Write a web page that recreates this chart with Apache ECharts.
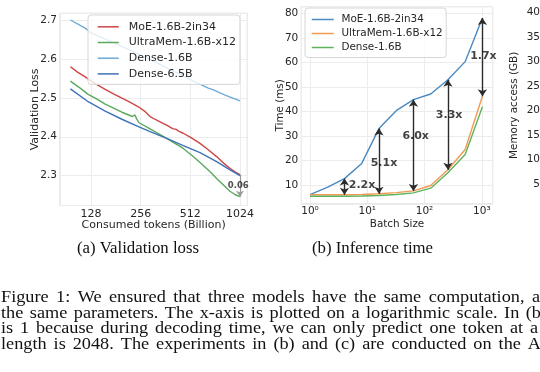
<!DOCTYPE html>
<html><head><meta charset="utf-8">
<script src="https://cdn.jsdelivr.net/npm/echarts@6/dist/echarts.min.js"></script>
<style>html,body{margin:0;padding:0;background:#fff}#c{width:540px;height:372px}</style>
</head><body><div id="c"></div>
<script>
// ---------- (a) Validation loss ----------
const lossTicks = [128, 256, 512, 1024];
const moeLossX   = [96, 106, 118, 135, 156, 175, 197, 220, 248, 270, 292, 312, 340, 368, 400, 420, 440, 464, 520, 586, 660, 739, 810, 890, 960, 1024];
const moeLossY   = [2.580, 2.566, 2.554, 2.537, 2.522, 2.510, 2.499, 2.489, 2.477, 2.466, 2.452, 2.445, 2.437, 2.430, 2.421, 2.419, 2.413, 2.409, 2.397, 2.383, 2.366, 2.349, 2.333, 2.319, 2.309, 2.303];
const ultraLossX = [96, 110, 123, 140, 156, 178, 197, 228, 236, 242, 250, 292, 312, 368, 464, 520, 586, 680, 739, 810, 890, 960, 1024];
const ultraLossY = [2.543, 2.525, 2.509, 2.496, 2.484, 2.472, 2.463, 2.452, 2.456, 2.446, 2.436, 2.420, 2.413, 2.396, 2.370, 2.353, 2.334, 2.309, 2.293, 2.277, 2.260, 2.251, 2.246];
const dense16LossX = [96, 118, 129, 200, 291, 385, 512, 658, 700, 831, 1024];
const dense16LossY = [2.700, 2.679, 2.666, 2.631, 2.599, 2.573, 2.547, 2.525, 2.521, 2.507, 2.492];
const dense65LossX = [96, 123, 156, 197, 248, 292, 368, 464, 586, 739, 890, 1024];
const dense65LossY = [2.523, 2.490, 2.466, 2.445, 2.426, 2.413, 2.396, 2.377, 2.359, 2.336, 2.315, 2.300];

// ---------- (b) Inference time ----------
const batchSizes = [1, 2, 4, 8, 16, 32, 64, 128, 256, 512, 1024];
const moeTime    = [6.1, 9.0, 12.6, 18.8, 33.0, 40.3, 44.8, 47.1, 52.9, 60.3, 78.1];
const ultraTime  = [6.0, 6.0, 6.0, 6.1, 6.4, 6.9, 7.6, 9.8, 16.2, 24.5, 46.2];
const denseTime  = [5.4, 5.4, 5.4, 5.5, 5.7, 6.1, 6.8, 8.7, 15.0, 22.4, 41.9];
const arrowBatches = [4, 16, 64, 256, 1024];
const speedupLabels = ['2.2x', '5.1x', '6.0x', '3.3x', '1.7x'];
const speedupLabelX = [8.1, 19.6, 70, 269, 1067];
const speedupLabelY = [10, 19.1, 30, 38.5, 62.6];

// ---------- captions ----------
const subCaptions = ['(a) Validation loss', '(b) Inference time'];
const captionLines = [
  'Figure 1: We ensured that three models have the same computation, a',
  'the same parameters. The x-axis is plotted on a logarithmic scale. In (b',
  'is 1 because during decoding time, we can only predict one token at a',
  'length is 2048. The experiments in (b) and (c) are conducted on the A'
];
const thirdAxisName = 'Memory access (GB)';

const zip = (xs, ys) => xs.map((x, i) => [x, ys[i]]);
const SANS = 'DejaVu Sans';
const TXT = '#262626';

const chart = echarts.init(document.getElementById('c'), null, {renderer: 'canvas'});

function lineSeries(name, data, color, xi) {
  return {type: 'line', name, data, xAxisIndex: xi, yAxisIndex: xi, symbol: 'none', showSymbol: false,
    lineStyle: {color, width: 1.4}, itemStyle: {color}, z: 2, animation: false};
}

const iA = ultraLossX.length - 1, mA = moeLossX.length - 1;
const gap = (moeLossY[mA] - ultraLossY[iA]);

const series = [
  lineSeries('a:MoE-1.6B-2in34', zip(moeLossX, moeLossY), '#cc4644', 0),
  lineSeries('a:UltraMem-1.6B-x12', zip(ultraLossX, ultraLossY), '#5aa95c', 0),
  lineSeries('a:Dense-1.6B', zip(dense16LossX, dense16LossY), '#6eaad6', 0),
  lineSeries('a:Dense-6.5B', zip(dense65LossX, dense65LossY), '#3f72b6', 0),
  {type: 'line', xAxisIndex: 0, yAxisIndex: 0, data: [], symbol: 'none', silent: true,
   markLine: {silent: true, animation: false, symbol: ['none', 'arrow'], symbolSize: 6,
     lineStyle: {color: '#9a9a9a', width: 1.2, type: 'solid'}, label: {show: false},
     data: [[{coord: [moeLossX[mA], moeLossY[mA]]}, {coord: [ultraLossX[iA], ultraLossY[iA]]}]]}},
  {type: 'scatter', xAxisIndex: 0, yAxisIndex: 0, symbolSize: 1, itemStyle: {color: 'rgba(0,0,0,0)'},
   data: [[1000, (moeLossY[mA] + ultraLossY[iA]) / 2, gap.toFixed(2)]], silent: true, z: 6, animation: false,
   label: {show: true, position: 'inside', formatter: p => p.data[2], fontWeight: 'bold', fontSize: 8.5, color: '#222', fontFamily: SANS}},

  lineSeries('b:MoE-1.6B-2in34', zip(batchSizes, moeTime), '#4a89c2', 1),
  lineSeries('b:UltraMem-1.6B-x12', zip(batchSizes, ultraTime), '#f39a52', 1),
  lineSeries('b:Dense-1.6B', zip(batchSizes, denseTime), '#5fb35f', 1),
  {type: 'line', xAxisIndex: 1, yAxisIndex: 1, data: [], symbol: 'none', silent: true,
   markLine: {silent: true, animation: false, symbol: ['arrow', 'arrow'], symbolSize: 7,
     lineStyle: {color: '#2b2b2b', width: 1.4, type: 'solid'}, label: {show: false},
     data: arrowBatches.map(b => { const i = batchSizes.indexOf(b); return [{coord: [b, ultraTime[i]]}, {coord: [b, moeTime[i]]}]; })}},
  {type: 'scatter', xAxisIndex: 1, yAxisIndex: 1, symbolSize: 1, itemStyle: {color: 'rgba(0,0,0,0)'},
   data: speedupLabels.map((t, i) => [speedupLabelX[i], speedupLabelY[i], t]), silent: true, z: 6, animation: false,
   label: {show: true, position: 'inside', formatter: p => p.data[2], fontWeight: 'bold', fontSize: 11, color: '#111', fontFamily: SANS}}
];

const sup = {'0': '\u2070', '1': '\u00b9', '2': '\u00b2', '3': '\u00b3'};
const gridStyle = {show: true, borderColor: '#d2d2d2', borderWidth: 1, backgroundColor: 'transparent'};
const split = {show: true, lineStyle: {color: '#ececec', width: 1}};

// caption graphics: slightly wide glyphs, justified lines
const meas = document.createElement('canvas').getContext('2d');
const capFont = 16.6, subFont = 16.8, capStretch = 1.1;
const graphics = [];
[[subCaptions[0], 138], [subCaptions[1], 372.5]].forEach(([t, x]) => graphics.push({type: 'text', x, y: 249,
  style: {text: t, fontSize: subFont, fontFamily: 'Liberation Serif', fill: '#111', align: 'center', verticalAlign: 'middle'}}));
const capY = [297.7, 313.3, 329, 344.3];
const capLeft = 1, capRight = [540, 541, 538, 541];
meas.font = capFont + 'px "Liberation Serif"';
captionLines.forEach((t, i) => {
  const words = t.split(' ');
  const ws = words.map(w => meas.measureText(w).width * capStretch);
  const total = ws.reduce((a, b) => a + b, 0);
  const sp = (capRight[i] - capLeft - total) / (words.length - 1);
  let x = capLeft;
  words.forEach((w, j) => {
    graphics.push({type: 'text', x, y: capY[i], scaleX: capStretch,
      style: {text: w, fontSize: capFont, fontFamily: 'Liberation Serif', fill: '#111', align: 'left', verticalAlign: 'middle'}});
    x += ws[j] + sp;
  });
});

const legendCommon = {orient: 'vertical', itemHeight: 12, selectedMode: false,
  backgroundColor: 'rgba(255,255,255,0.8)', borderColor: '#d6d6d6', borderWidth: 1, borderRadius: 3,
  itemStyle: {opacity: 0, borderWidth: 0}, lineStyle: {width: 1.5}, formatter: n => n.slice(2)};

chart.setOption({
  animation: false,
  backgroundColor: '#fff',
  grid: [
    Object.assign({left: 60, top: 13.3, width: 187.3, height: 192.2}, gridStyle),
    Object.assign({left: 301.3, top: 6.7, width: 191.4, height: 197.3}, gridStyle),
    Object.assign({left: 543, top: 6.7, width: 60, height: 197.3}, gridStyle)
  ],
  xAxis: [
    {type: 'log', logBase: 2, min: 83, max: 1134, gridIndex: 0,
     axisLine: {show: false}, axisTick: {show: false}, splitLine: split,
     axisLabel: {showMinLabel: false, showMaxLabel: false, margin: 3, fontSize: 11, color: TXT, fontFamily: SANS,
       formatter: v => { const r = Math.round(v); return lossTicks.includes(r) ? String(r) : ''; }},
     name: 'Consumed tokens (Billion)', nameLocation: 'middle', nameGap: 14.5, nameMoveOverlap: false,
     nameTextStyle: {fontSize: 11, color: TXT, fontFamily: SANS}},
    {type: 'log', logBase: 10, min: 0.705, max: 1549, gridIndex: 1,
     axisLine: {show: false}, axisTick: {show: false}, splitLine: split,
     axisLabel: {showMinLabel: false, showMaxLabel: false, margin: 2, fontSize: 10.5, color: TXT, fontFamily: SANS,
       formatter: v => { const k = Math.round(Math.log10(v)); return '10' + (sup[k] || ''); }},
     name: 'Batch Size', nameLocation: 'middle', nameGap: 15, nameMoveOverlap: false,
     nameTextStyle: {fontSize: 10.4, color: TXT, fontFamily: SANS}},
    {type: 'value', gridIndex: 2, show: false, min: 0, max: 10}
  ],
  yAxis: [
    {type: 'value', min: 2.2234, max: 2.7172, splitNumber: 5, minInterval: 0.1, maxInterval: 0.1, gridIndex: 0,
     axisLine: {show: false}, axisTick: {show: false}, splitLine: split,
     axisLabel: {showMinLabel: false, showMaxLabel: false, margin: 3, fontSize: 10.5, color: TXT, fontFamily: SANS,
       formatter: v => v.toFixed(1)},
     name: 'Validation Loss', nameLocation: 'middle', nameGap: 19.5, nameMoveOverlap: false,
     nameTextStyle: {fontSize: 11, color: TXT, fontFamily: SANS}},
    {type: 'value', min: 2.25, max: 82.7, splitNumber: 8, minInterval: 10, maxInterval: 10, gridIndex: 1,
     axisLine: {show: false}, axisTick: {show: false}, splitLine: split,
     axisLabel: {showMinLabel: false, showMaxLabel: false, margin: 3, fontSize: 10.5, color: TXT, fontFamily: SANS},
     name: 'Time (ms)', nameLocation: 'middle', nameGap: 16.5, nameMoveOverlap: false,
     nameTextStyle: {fontSize: 10.4, color: TXT, fontFamily: SANS}},
    {type: 'value', min: 0.98, max: 41.2, splitNumber: 8, minInterval: 5, maxInterval: 5, gridIndex: 2,
     axisLine: {show: false}, axisTick: {show: false}, splitLine: split,
     axisLabel: {showMinLabel: false, showMaxLabel: false, margin: 3, fontSize: 10.5, color: TXT, fontFamily: SANS},
     name: thirdAxisName, nameLocation: 'middle', nameGap: 23.5, nameMoveOverlap: false,
     nameTextStyle: {fontSize: 10.4, color: TXT, fontFamily: SANS}}
  ],
  legend: [
    Object.assign({left: 88, top: 15, itemWidth: 21, itemGap: 4.7, padding: [6.3, 4, 5, 9],
     textStyle: {fontSize: 11, color: TXT, fontFamily: SANS, padding: [0, 0, 0, 5]},
     data: ['a:MoE-1.6B-2in34', 'a:UltraMem-1.6B-x12', 'a:Dense-1.6B', 'a:Dense-6.5B']}, legendCommon),
    Object.assign({left: 305, top: 8, itemWidth: 22, itemGap: 4, padding: [6.5, 3.5, 5, 6],
     textStyle: {fontSize: 10.4, color: TXT, fontFamily: SANS, padding: [0, 0, 0, 2.7]},
     data: ['b:MoE-1.6B-2in34', 'b:UltraMem-1.6B-x12', 'b:Dense-1.6B']}, legendCommon)
  ],
  series,
  graphic: graphics
});
</script></body></html>
